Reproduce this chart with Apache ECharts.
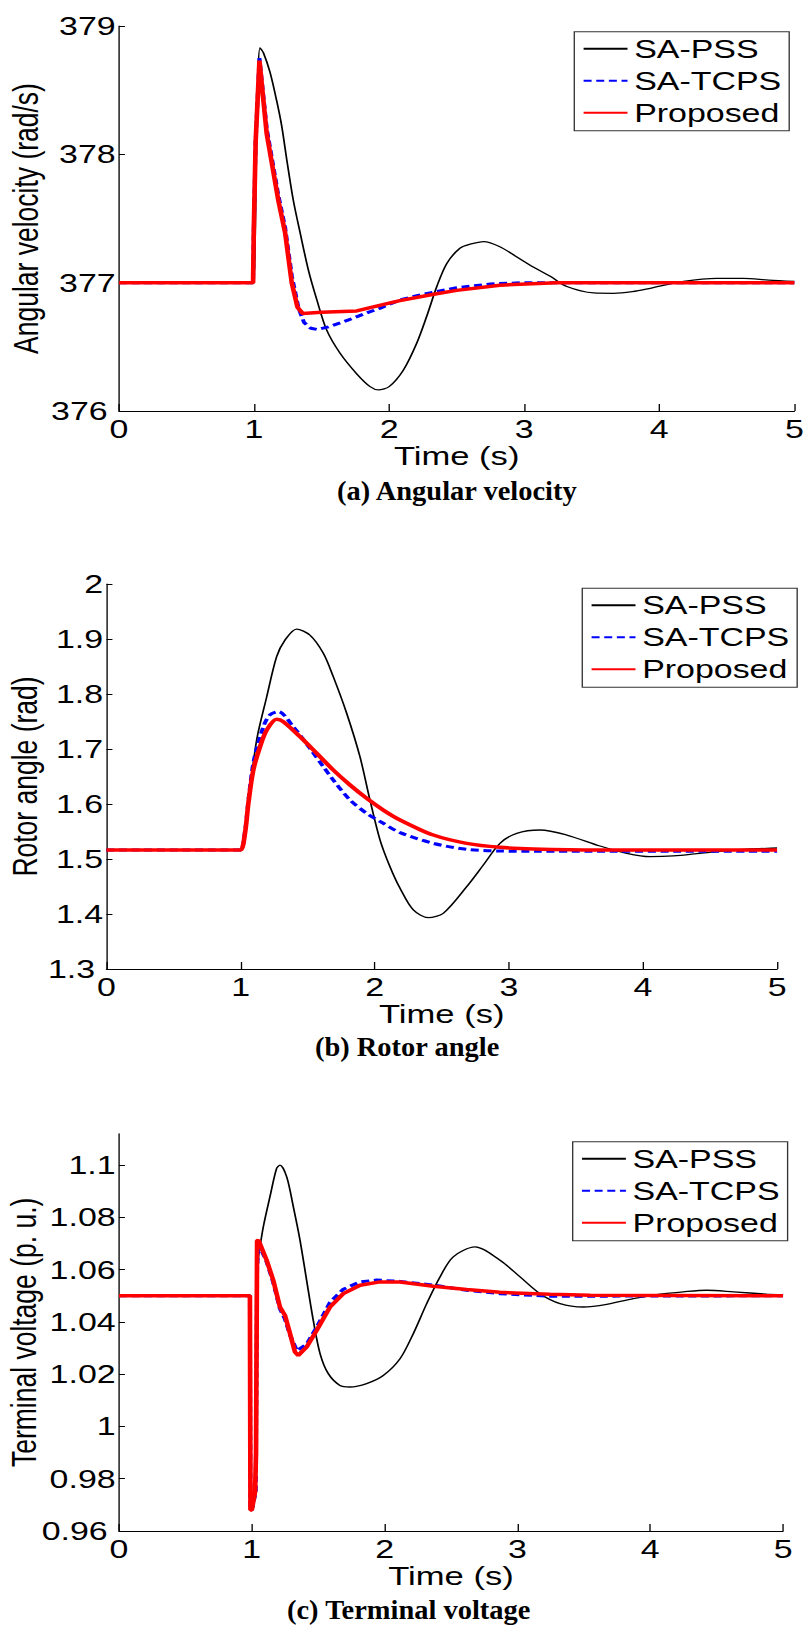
<!DOCTYPE html>
<html>
<head>
<meta charset="utf-8">
<script src="https://cdn.jsdelivr.net/npm/echarts@6/dist/echarts.min.js"></script>
<style>
  html, body { margin: 0; padding: 0; background: #fff; overflow: hidden; }
  /* the source figure is stretched sideways, so draw narrow and stretch */
  #main { width: 605px; height: 1625px; transform-origin: 0 0; transform: scaleX(1.3306); }
</style>
</head>
<body>
<div id="main"></div>
<script>
var names = ['SA-PSS', 'SA-TCPS', 'Proposed'];
var captions = ['(a) Angular velocity', '(b) Rotor angle', '(c) Terminal voltage'];
var xTicks = [0, 1, 2, 3, 4, 5];
var yTicksA = [376, 377, 378, 379];
var yTicksB = [1.3, 1.4, 1.5, 1.6, 1.7, 1.8, 1.9, 2];
var yTicksC = [0.96, 0.98, 1, 1.02, 1.04, 1.06, 1.08, 1.1];

// (a) angular velocity (rad/s)
var tPssA = [0, 0.95, 0.99, 1.0, 1.02, 1.044, 1.07, 1.118, 1.167, 1.205, 1.242, 1.291, 1.341, 1.402, 1.464, 1.538, 1.637, 1.76, 1.859, 1.921, 2.0, 2.106, 2.205, 2.279, 2.353, 2.427, 2.526, 2.6, 2.7, 2.82, 2.946, 3.07, 3.193, 3.316, 3.514, 3.661, 3.8, 3.933, 4.18, 4.427, 4.624, 4.81, 5];
var wPssA = [377, 377, 377, 377, 378.2, 378.83, 378.79, 378.64, 378.42, 378.22, 377.96, 377.64, 377.39, 377.1, 376.87, 376.63, 376.45, 376.29, 376.19, 376.165, 376.19, 376.32, 376.53, 376.74, 376.97, 377.15, 377.27, 377.3, 377.32, 377.28, 377.2, 377.12, 377.05, 376.97, 376.92, 376.917, 376.93, 376.956, 377.01, 377.034, 377.034, 377.02, 377.01];
var tTcpsA = [0, 0.993, 0.998, 1.012, 1.04, 1.094, 1.18, 1.23, 1.28, 1.33, 1.37, 1.42, 1.47, 1.55, 1.7, 1.85, 1.93, 2.08, 2.25, 2.5, 2.75, 3.0, 3.3, 5];
var wTcpsA = [377, 377, 377.4, 378.1, 378.75, 378.2, 377.68, 377.43, 377.05, 376.8, 376.69, 376.645, 376.635, 376.655, 376.71, 376.77, 376.8, 376.865, 376.91, 376.96, 376.99, 377.0, 377.0, 377.0];
var tPropA = [0, 0.993, 0.998, 1.012, 1.04, 1.094, 1.18, 1.23, 1.279, 1.321, 1.36, 1.5, 1.76, 2.0, 2.08, 2.33, 2.5, 2.82, 3.24, 5];
var wPropA = [377, 377, 377.4, 378.1, 378.73, 378.16, 377.64, 377.39, 377.0, 376.81, 376.76, 376.77, 376.78, 376.84, 376.86, 376.91, 376.94, 376.98, 377.0, 377.0];

// (b) rotor angle (rad)
var tPssB = [0, 0.95, 1.0, 1.05, 1.12, 1.195, 1.269, 1.331, 1.418, 1.517, 1.617, 1.691, 1.791, 1.89, 1.965, 2.04, 2.114, 2.189, 2.288, 2.4, 2.511, 2.686, 2.81, 2.934, 3.059, 3.233, 3.432, 3.68, 3.879, 4.053, 4.227, 4.426, 4.674, 4.923, 5];
var dPssB = [1.5164, 1.5164, 1.5164, 1.59, 1.7164, 1.795, 1.868, 1.898, 1.918, 1.907, 1.874, 1.8315, 1.765, 1.686, 1.607, 1.5345, 1.486, 1.4467, 1.4073, 1.3933, 1.4012, 1.4497, 1.489, 1.5285, 1.5467, 1.5527, 1.5436, 1.5236, 1.5103, 1.5042, 1.5055, 1.5103, 1.5164, 1.5194, 1.52];
var tTcpsB = [0, 0.95, 1.0, 1.033, 1.06, 1.1, 1.17, 1.219, 1.281, 1.393, 1.517, 1.617, 1.691, 1.816, 1.94, 2.064, 2.189, 2.437, 2.686, 2.934, 3.2, 5];
var dTcpsB = [1.5164, 1.5164, 1.5164, 1.55, 1.61, 1.68, 1.7405, 1.762, 1.768, 1.7405, 1.7012, 1.6679, 1.6436, 1.6073, 1.583, 1.5649, 1.548, 1.5285, 1.5176, 1.5145, 1.514, 1.514];
var tPropB = [0, 0.95, 1.0, 1.033, 1.058, 1.095, 1.145, 1.195, 1.269, 1.319, 1.443, 1.568, 1.691, 1.816, 1.94, 2.064, 2.189, 2.437, 2.686, 2.934, 3.183, 3.68, 5];
var dPropB = [1.5164, 1.5164, 1.5164, 1.5467, 1.601, 1.6618, 1.704, 1.7345, 1.754, 1.7497, 1.7224, 1.692, 1.6618, 1.6345, 1.6103, 1.589, 1.571, 1.5436, 1.5285, 1.5212, 1.5182, 1.5164, 1.5164];

// (c) terminal voltage (p. u.)
var tPssC = [0, 0.95, 0.986, 0.99, 1.0, 1.025, 1.038, 1.05, 1.087, 1.137, 1.187, 1.212, 1.263, 1.313, 1.363, 1.413, 1.463, 1.514, 1.576, 1.664, 1.739, 1.865, 1.99, 2.116, 2.216, 2.317, 2.417, 2.517, 2.681, 2.869, 3.02, 3.17, 3.321, 3.497, 3.672, 3.873, 4.074, 4.249, 4.425, 4.626, 4.877, 5];
var uPssC = [1.05, 1.05, 1.05, 0.968, 0.968, 0.975, 1.06, 1.0649, 1.0764, 1.0879, 1.0987, 1.1, 1.0955, 1.084, 1.0713, 1.0559, 1.0406, 1.0279, 1.0202, 1.0157, 1.0151, 1.0164, 1.0195, 1.0259, 1.0355, 1.047, 1.0572, 1.0649, 1.0687, 1.0636, 1.0572, 1.0508, 1.047, 1.0457, 1.0467, 1.0489, 1.0506, 1.0515, 1.0521, 1.0515, 1.0506, 1.0503];
var tTcpsC = [0, 0.986, 0.99, 1.0, 1.03, 1.04, 1.05, 1.112, 1.162, 1.212, 1.25, 1.288, 1.34, 1.413, 1.489, 1.589, 1.689, 1.815, 1.94, 2.116, 2.367, 2.618, 2.869, 3.245, 5];
var uTcpsC = [1.05, 1.05, 0.968, 0.968, 0.975, 1.06, 1.07, 1.063, 1.055, 1.045, 1.041, 1.035, 1.029, 1.0315, 1.038, 1.0475, 1.0525, 1.0553, 1.056, 1.0555, 1.0541, 1.0521, 1.0508, 1.0498, 1.05];
var tPropC = [0, 0.986, 0.99, 1.0, 1.025, 1.032, 1.04, 1.05, 1.112, 1.162, 1.212, 1.25, 1.288, 1.325, 1.35, 1.413, 1.489, 1.589, 1.689, 1.815, 1.965, 2.116, 2.367, 2.618, 2.869, 3.245, 3.547, 5];
var uPropC = [1.05, 1.05, 0.968, 0.968, 0.975, 0.99, 1.071, 1.0713, 1.0636, 1.0559, 1.0457, 1.0425, 1.0355, 1.0285, 1.0272, 1.0304, 1.0368, 1.0457, 1.0508, 1.054, 1.0553, 1.0553, 1.0536, 1.0524, 1.0513, 1.0506, 1.0502, 1.05];

var sansFont = '"Liberation Sans", Arial, sans-serif';
var stretch = 805 / 605;

function pairs(t, v) {
    return t.map(function (x, i) { return [x, v[i]]; });
}

function xAxisFor(i) {
    return {
        type: 'value', gridIndex: i, min: 0, max: 5,
        name: 'Time (s)', nameLocation: 'middle', nameGap: 32, nameMoveOverlap: false,
        nameTextStyle: { fontFamily: sansFont, fontSize: 26, color: '#000' },
        axisLine: { show: true, onZero: false, lineStyle: { color: '#000', width: 1 } },
        axisTick: { show: true, inside: true, length: 7, customValues: xTicks, lineStyle: { color: '#000' } },
        axisLabel: { customValues: xTicks, margin: 5, fontFamily: sansFont, fontSize: 25.5, color: '#000' },
        splitLine: { show: false }
    };
}

function yAxisFor(i, name, min, max, ticks, gap) {
    return {
        type: 'value', gridIndex: i, min: min, max: max,
        name: name, nameLocation: 'middle', nameGap: gap, nameMoveOverlap: false,
        nameTextStyle: { fontFamily: sansFont, fontSize: 26.5, color: '#000' },
        axisLine: { show: true, onZero: false, lineStyle: { color: '#000', width: 1 } },
        axisTick: { show: true, inside: true, length: 4.5, customValues: ticks, lineStyle: { color: '#000' } },
        axisLabel: {
            customValues: ticks, margin: 2.5, fontFamily: sansFont, fontSize: 25.5, color: '#000',
            // lowest label sits in the corner next to the x "0": nudge it left a little
            formatter: function (v) { return v === min ? '{c|' + v + '}' : String(v); },
            rich: { c: { fontFamily: sansFont, fontSize: 25.5, color: '#000', padding: [0, 6, 0, 0] } }
        },
        splitLine: { show: false }
    };
}

function legendAt(left, top) {
    return {
        orient: 'vertical', left: left, top: top, data: names,
        itemWidth: 33, itemHeight: 14, itemGap: 6,
        padding: [4, 6, 5, 6],
        borderColor: '#333', borderWidth: 1, borderRadius: 0, backgroundColor: '#fff',
        itemStyle: { opacity: 0 },
        textStyle: { fontFamily: sansFont, fontSize: 25.5, color: '#000', lineHeight: 26 },
        selectedMode: false
    };
}

var styles = [
    { color: '#000000', width: 1.3, type: 'solid' },
    { color: '#0000ff', width: 3, type: [6, 3.5] },
    { color: '#ff0000', width: 3.5, type: 'solid' }
];

// smoothFlags: 0 = straight, 1 = smooth keeping x monotone, 2 = plain smooth
function plotSeries(i, dataList, smoothFlags) {
    return dataList.map(function (d, k) {
        var f = smoothFlags[k];
        return {
            name: names[k], type: 'line', xAxisIndex: i, yAxisIndex: i,
            data: d, symbol: 'none', showSymbol: false, z: 2 + k,
            smooth: f ? 0.3 : false, smoothMonotone: f === 1 ? 'x' : null,
            color: styles[k].color,
            lineStyle: { color: styles[k].color, width: styles[k].width, type: styles[k].type },
            emphasis: { disabled: true }
        };
    });
}

var series = []
    .concat(plotSeries(0, [pairs(tPssA, wPssA), pairs(tTcpsA, wTcpsA), pairs(tPropA, wPropA)], [2, 0, 0]))
    .concat(plotSeries(1, [pairs(tPssB, dPssB), pairs(tTcpsB, dTcpsB), pairs(tPropB, dPropB)], [2, 2, 2]))
    .concat(plotSeries(2, [pairs(tPssC, uPssC), pairs(tTcpsC, uTcpsC), pairs(tPropC, uPropC)], [2, 0, 0]));

// caption positions (left edge, middle) in page units
var capPos = [[253.3, 491], [236.7, 1047], [215.7, 1610]];

var myChart = echarts.init(document.getElementById('main'), null, { renderer: 'svg' });
var option = {
    animation: false,
    backgroundColor: '#fff',
    grid: [
        { left: 89.4, right: 8, top: 26, height: 385, outerBoundsMode: 'none', containLabel: false },
        { left: 80, right: 21, top: 584, height: 385, outerBoundsMode: 'none', containLabel: false },
        { left: 89.4, right: 16.5, top: 1133.7, height: 397.3, outerBoundsMode: 'none', containLabel: false }
    ],
    xAxis: [xAxisFor(0), xAxisFor(1), xAxisFor(2)],
    yAxis: [
        yAxisFor(0, 'Angular velocity (rad/s)', 376, 379, yTicksA, 56),
        yAxisFor(1, 'Rotor angle (rad)', 1.3, 2, yTicksB, 48),
        yAxisFor(2, 'Terminal voltage (p. u.)', 0.96, 1.112, yTicksC, 58)
    ],
    legend: [legendAt(431.6, 31.7), legendAt(437.6, 588.3), legendAt(430.4, 1141.7)],
    graphic: captions.map(function (c, i) {
        return {
            type: 'text', x: capPos[i][0], y: capPos[i][1],
            scaleX: 1.074 / stretch,
            style: {
                text: c, font: 'bold 26.5px "Liberation Serif", "Times New Roman", serif',
                fill: '#000', align: 'left', textAlign: 'left',
                verticalAlign: 'middle', textVerticalAlign: 'middle'
            }
        };
    }),
    series: series
};
myChart.setOption(option);
</script>
</body>
</html>
